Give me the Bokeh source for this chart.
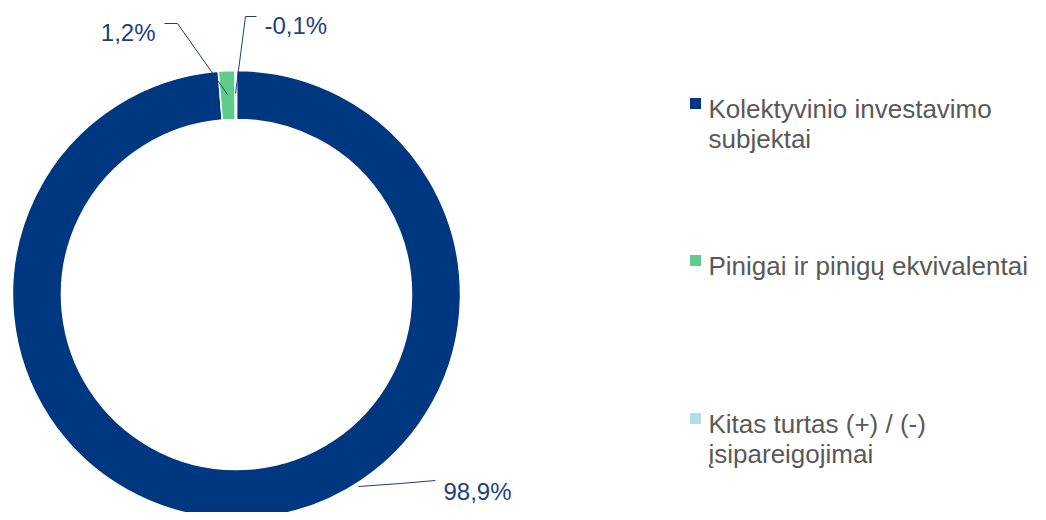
import numpy as np
from bokeh.plotting import figure
from bokeh.models import Range1d, ColumnDataSource
from bokeh.core.properties import value
from bokeh.embed import file_html
from bokeh.resources import INLINE

# ---- data ----
categories = ["Kolektyvinio investavimo subjektai",
              "Pinigai ir pinigų ekvivalentai",
              "Kitas turtas (+) / (-) įsipareigojimai"]
shares = [98.9, 1.2, -0.1]
labels = ["98,9%", "1,2%", "-0,1%"]
colors = ["#003781", "#5ECC8A", "#B4DCE6"]
legend_lines = [["Kolektyvinio investavimo", "subjektai"],
                ["Pinigai ir pinigų ekvivalentai"],
                ["Kitas turtas (+) / (-)", "įsipareigojimai"]]

W, H = 1038, 512
FONT = value("Liberation Sans")

p = figure(width=W, height=H, output_backend="svg", toolbar_location=None,
           x_range=Range1d(0, W), y_range=Range1d(520 - H, 520),
           min_border=0)
p.axis.visible = False
p.grid.visible = False
p.outline_line_color = None
p.background_fill_color = "white"

def Y(sy):  # screen y (reference pixels) -> data y
    return 520 - sy

cx, cy = 236, Y(294)
r_out, r_in = 224, 175

absv = np.abs(np.array(shares, dtype=float))
frac = absv / absv.sum()
ends_cum = np.cumsum(frac)
starts_cum = ends_cum - frac
start_ang = np.pi / 2 - 2 * np.pi * starts_cum
end_ang = np.pi / 2 - 2 * np.pi * ends_cum

src = ColumnDataSource(dict(x=[cx] * 3, y=[cy] * 3, s=start_ang, e=end_ang, c=colors))
p.annular_wedge(x="x", y="y", inner_radius=r_in, outer_radius=r_out,
                start_angle="s", end_angle="e", direction="clock",
                fill_color="c", line_color="white", line_width=1.5, source=src)

# ---- data labels with leader lines ----
label_color = "#1F3F80"
# 98,9%
p.line([358, 400, 435], [Y(486), Y(483), Y(480)], line_color=label_color, line_width=1)
p.text(x=[443], y=[Y(491)], text=[labels[0]], text_font=FONT, text_font_size="24px",
       text_color=label_color, text_align="left", text_baseline="alphabetic")
# 1,2%
p.line([164, 177, 227], [Y(23), Y(23), Y(94)], line_color=label_color, line_width=1)
p.text(x=[155], y=[Y(32)], text=[labels[1]], text_font=FONT, text_font_size="24px",
       text_color=label_color, text_align="right", text_baseline="alphabetic")
# -0,1%
p.line([256, 245, 235], [Y(16), Y(16), Y(93)], line_color=label_color, line_width=1)
p.text(x=[264], y=[Y(25)], text=[labels[2]], text_font=FONT, text_font_size="24px",
       text_color=label_color, text_align="left", text_baseline="alphabetic")

# ---- legend ----
first_baselines = [108, 265, 423]
for i, lines in enumerate(legend_lines):
    b = first_baselines[i]
    p.rect(x=[695], y=[Y(b - 5)], width=11, height=11, fill_color=colors[i], line_color=None)
    for j, ln in enumerate(lines):
        p.text(x=[708], y=[Y(b + 30 * j)], text=[ln], text_font=FONT, text_font_size="26px",
               text_color="#595959", text_align="left", text_baseline="alphabetic")

open("out.html", "w").write(file_html(p, INLINE))
